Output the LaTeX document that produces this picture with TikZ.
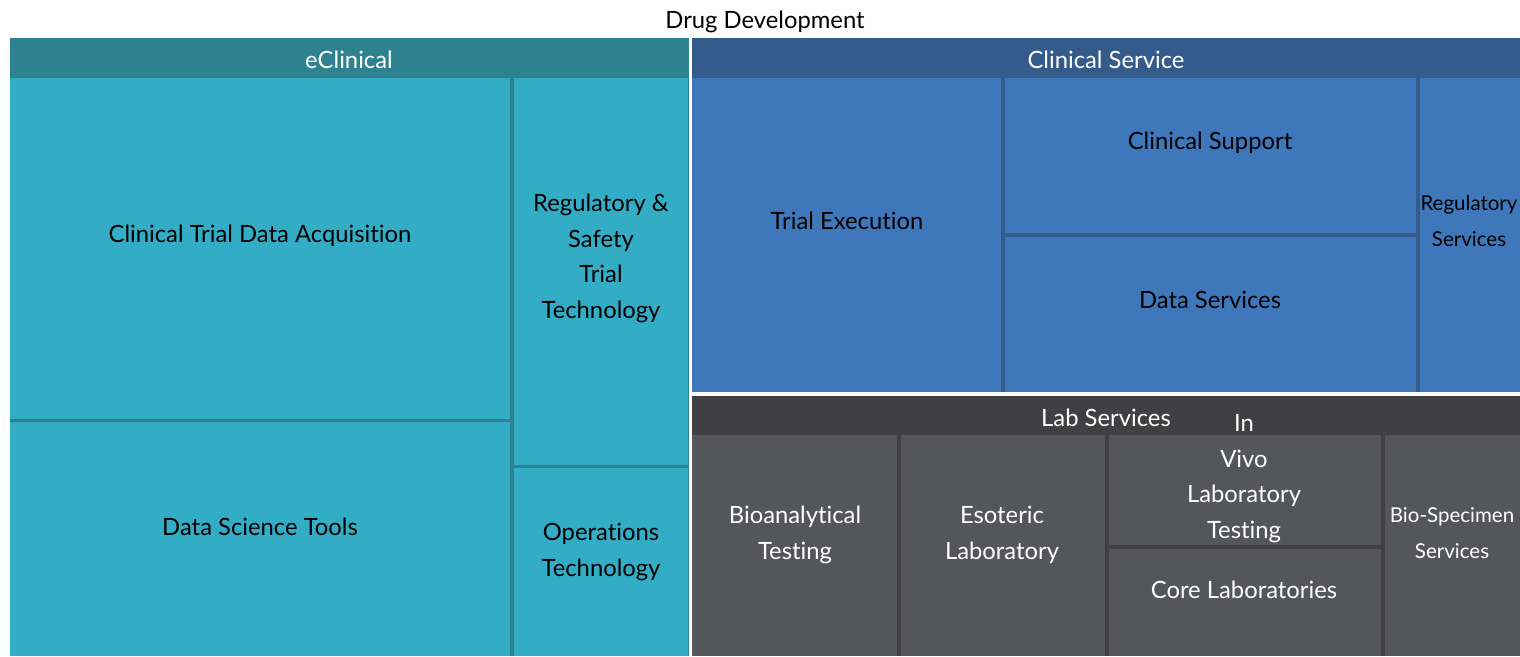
\documentclass[tikz,border=0pt]{standalone}
\usepackage{fontspec}
\setmainfont{Lato}[Ligatures=NoCommon]
\definecolor{ecHead}{HTML}{2E8290}
\definecolor{ecLeaf}{HTML}{33ADC6}
\definecolor{csHead}{HTML}{345B8B}
\definecolor{csLeaf}{HTML}{3F77BB}
\definecolor{lsHead}{HTML}{404043}
\definecolor{lsLeaf}{HTML}{55565B}
\begin{document}
\begin{tikzpicture}[x=1pt, y=-1pt,
  lbl/.style = {anchor=base, align=center, inner sep=0pt, font=\fontsize{23.8}{35.7}\selectfont},
  small/.style = {lbl, font=\fontsize{20.5}{36}\selectfont},
  head/.style = {lbl, text=white},
  dark/.style = {lbl, text=white}]
\useasboundingbox (0,0) rectangle (1520,656);

% eClinical
\fill[ecHead] (10,38) rectangle (689,656);
\fill[ecLeaf] (10,78) rectangle (510,419);
\fill[ecLeaf] (10,422) rectangle (510,656);
\fill[ecLeaf] (514,78) rectangle (688,465);
\fill[ecLeaf] (514,468) rectangle (688,656);

% Clinical Service
\fill[csHead] (692,38) rectangle (1520,392);
\fill[csLeaf] (692,78) rectangle (1001,392);
\fill[csLeaf] (1005,78) rectangle (1416,233);
\fill[csLeaf] (1005,237) rectangle (1416,392);
\fill[csLeaf] (1420,78) rectangle (1520,392);

% Lab Services
\fill[lsHead] (692,396) rectangle (1520,656);
\fill[lsLeaf] (692,435) rectangle (897,656);
\fill[lsLeaf] (901,435) rectangle (1105,656);
\fill[lsLeaf] (1109,435) rectangle (1381,545);
\fill[lsLeaf] (1109,549) rectangle (1381,656);
\fill[lsLeaf] (1385,435) rectangle (1520,656);

% labels (multi-line ones sit on their last line)
\node[lbl] (title) at (765,28.6) {Drug Development};

\node[head] (ec) at (349,68.6) {eClinical};
\node[lbl] (ctda) at (260,242.6) {Clinical Trial Data Acquisition};
\node[lbl] (dst) at (260,535.6) {Data Science Tools};
\node[lbl] (rst) at (601,318.6) {Regulatory \&\\Safety\\Trial\\Technology};
\node[lbl] (ot) at (601,576.6) {Operations\\Technology};

\node[head] (cs) at (1106,68.6) {Clinical Service};
\node[lbl] (te) at (847,229.6) {Trial Execution};
\node[lbl] (csup) at (1210,149.6) {Clinical Support};
\node[lbl] (ds) at (1210,308.6) {Data Services};
\node[small] (rs) at (1469,246.4) {Regulatory\\Services};

\node[head] (ls) at (1106,426.6) {Lab Services};
\node[dark] (bt) at (795,559.6) {Bioanalytical\\Testing};
\node[dark] (el) at (1002,559.6) {Esoteric\\Laboratory};
\node[dark] (iv) at (1244,538.6) {In\\Vivo\\Laboratory\\Testing};
\node[dark] (cl) at (1244,598.6) {Core Laboratories};
\node[small, text=white] (bss) at (1452,558.4) {Bio-Specimen\\Services};

\end{tikzpicture}
\end{document}
